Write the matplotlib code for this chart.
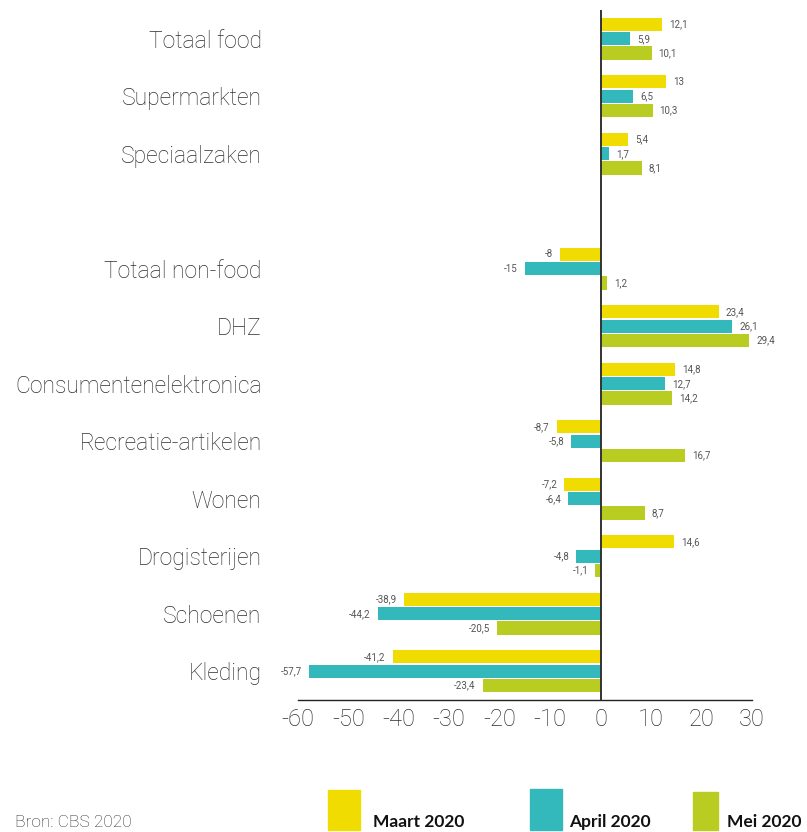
import matplotlib.pyplot as plt
from matplotlib.patches import Rectangle

categories = ["Totaal food", "Supermarkten", "Speciaalzaken",
              "Totaal non-food", "DHZ", "Consumentenelektronica",
              "Recreatie-artikelen", "Wonen", "Drogisterijen",
              "Schoenen", "Kleding"]
# row slot of every category (slot 3 is left empty as a separator)
rows = [0, 1, 2, 4, 5, 6, 7, 8, 9, 10, 11]
series = ["Maart 2020", "April 2020", "Mei 2020"]
maart = [12.1, 13, 5.4, -8, 23.4, 14.8, -8.7, -7.2, 14.6, -38.9, -41.2]
april = [5.9, 6.5, 1.7, -15, 26.1, 12.7, -5.8, -6.4, -4.8, -44.2, -57.7]
mei = [10.1, 10.3, 8.1, 1.2, 29.4, 14.2, 16.7, 8.7, -1.1, -20.5, -23.4]
xticks = [-60, -50, -40, -30, -20, -10, 0, 10, 20, 30]

colors = ["#f0dc00", "#33b8bc", "#b8cc22"]
text_col = "#2e2e2e"
plt.rcParams['font.family'] = ['Roboto', 'DejaVu Sans']

fig = plt.figure(figsize=(8.07, 8.32), dpi=100)
ax = fig.add_axes([0.369, 0.1587, 0.563, 0.8293])

offsets = [-0.25, 0.0, 0.25]
for vals, off, col in zip([maart, april, mei], offsets, colors):
    ys = [r + off for r in rows]
    ax.barh(ys, vals, height=0.23, color=col, zorder=2)
    for y, v in zip(ys, vals):
        lab = "{:g}".format(v).replace(".", ",")
        if v >= 0:
            ax.annotate(lab, (v, y), xytext=(5, 0), textcoords="offset points",
                        ha="left", va="center", fontsize=7, color="#555555")
        else:
            ax.annotate(lab, (v, y), xytext=(-5, 0), textcoords="offset points",
                        ha="right", va="center", fontsize=7, color="#555555")

ax.axvline(0, color="#333333", lw=1.4, zorder=3)
ax.set_xlim(-60, 30)
ax.set_ylim(11.5, -0.5)
ax.set_xticks(xticks)
ax.set_xticklabels([str(t) for t in xticks], fontsize=17, color=text_col,
                   fontweight="light")
ax.set_yticks(rows)
ax.set_yticklabels(categories, fontsize=16.5, color=text_col, fontweight="light")
ax.tick_params(axis="y", length=0, pad=26)
ax.tick_params(axis="x", length=0, pad=6)
for s in ["top", "right", "left"]:
    ax.spines[s].set_visible(False)
ax.spines["bottom"].set_color("#222222")
ax.spines["bottom"].set_linewidth(1.0)

# legend drawn by hand at the bottom
W, H = 807.0, 832.0
leg_boxes = [(328, 790, 32, 40), (530, 789, 32, 41), (693, 792, 25, 38)]
leg_text_x = [373, 569, 727]
for (x0, y0, w, h), col, name, tx in zip(leg_boxes, colors, series, leg_text_x):
    fig.add_artist(Rectangle((x0 / W, 1 - (y0 + h) / H), w / W, h / H,
                             transform=fig.transFigure, color=col))
    fig.text(tx / W, 1 - 827 / H, name, fontsize=12.5, fontweight="bold",
             color="#111111", family=["Lato", "DejaVu Sans"],
             ha="left", va="baseline")

fig.text(15 / W, 1 - 827 / H, "Bron: CBS 2020", fontsize=12.5,
         fontweight="light", color=text_col, ha="left", va="baseline")

fig.savefig("out.png", dpi=100)
